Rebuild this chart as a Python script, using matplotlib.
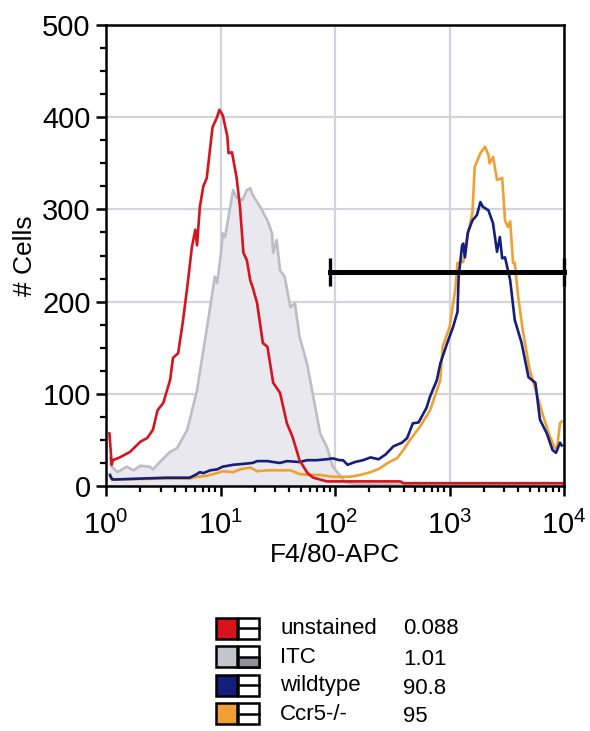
import numpy as np
import matplotlib
matplotlib.use("Agg")
import matplotlib.pyplot as plt
from matplotlib.patches import Rectangle
from matplotlib.ticker import LogLocator, MultipleLocator

plt.rcParams['font.family'] = ['Liberation Sans', 'DejaVu Sans']
plt.rcParams['mathtext.fontset'] = 'custom'
plt.rcParams['mathtext.rm'] = 'Liberation Sans'
plt.rcParams['mathtext.it'] = 'Liberation Sans'
plt.rcParams['mathtext.default'] = 'regular'

# histogramas (x em décadas log10 da intensidade, y = nº de células)
unstained_log = [0.03, 0.05, 0.06, 0.12, 0.21, 0.30, 0.36, 0.41, 0.45, 0.50, 0.56, 0.585, 0.63, 0.67,
                 0.71, 0.75, 0.78, 0.795, 0.82, 0.85, 0.88, 0.93, 0.97, 0.99, 1.02, 1.06, 1.07, 1.10,
                 1.14, 1.17, 1.20, 1.23, 1.26, 1.28, 1.32, 1.37, 1.41, 1.46, 1.52, 1.58, 1.63, 1.69,
                 1.76, 1.81, 1.93, 2.57, 2.60, 4.0]
unstained_cnt = [57, 23, 28, 31, 37, 48, 52, 61, 82, 90, 115, 139, 144, 177,
                 216, 259, 278, 261, 303, 325, 334, 389, 400, 408, 402, 379, 361, 362,
                 335, 303, 253, 245, 223, 216, 198, 155, 151, 112, 101, 68, 53, 28,
                 14, 9, 5, 5, 3, 3]

itc_log = [0.035, 0.05, 0.10, 0.18, 0.24, 0.30, 0.38, 0.41, 0.47, 0.56, 0.62, 0.71, 0.795, 0.85,
           0.91, 0.95, 0.97, 1.00, 1.02, 1.04, 1.07, 1.11, 1.14, 1.19, 1.23, 1.26, 1.28, 1.345,
           1.41, 1.45, 1.46, 1.49, 1.52, 1.56, 1.61, 1.65, 1.69, 1.755, 1.81, 1.87, 1.93, 1.98,
           2.04, 2.09, 2.2, 2.6, 3.0, 3.5, 3.9, 4.0]
itc_cnt = [30, 21, 15, 21, 17, 22, 21, 18, 26, 37, 41, 61, 104, 147,
           194, 227, 220, 248, 274, 270, 292, 321, 313, 310, 321, 323, 316, 303,
           288, 274, 253, 267, 234, 227, 194, 198, 162, 133, 97, 57, 42, 21,
           12, 4, 2, 2, 2, 2, 3, 2]

wt_log = [0.035, 0.05, 0.06, 0.53, 0.73, 0.78, 0.82, 0.85, 0.91, 0.97, 1.02, 1.11, 1.20, 1.28,
          1.32, 1.41, 1.46, 1.52, 1.58, 1.69, 1.755, 1.84, 1.93, 1.98, 2.04, 2.07, 2.11, 2.175,
          2.245, 2.31, 2.38, 2.44, 2.51, 2.585, 2.63, 2.68, 2.73, 2.80, 2.83, 2.89, 2.92, 2.98,
          3.03, 3.07, 3.08, 3.11, 3.12, 3.135, 3.16, 3.20, 3.24, 3.27, 3.29, 3.34, 3.38, 3.415,
          3.44, 3.46, 3.485, 3.53, 3.57, 3.63, 3.69, 3.75, 3.79, 3.85, 3.90, 3.93, 3.965, 3.98]
wt_cnt = [12, 8, 7, 9, 9, 12, 15, 14, 17, 18, 21, 23, 24, 25,
          27, 27, 26, 25, 27, 26, 28, 28, 29, 30, 28, 28, 23, 26,
          28, 31, 29, 34, 43, 47, 52, 68, 69, 85, 97, 115, 133, 155,
          172, 189, 227, 261, 263, 248, 275, 288, 294, 308, 303, 299, 285, 254,
          270, 247, 248, 223, 180, 155, 118, 112, 72, 57, 39, 36, 47, 44]

ko_log = [0.035, 0.05, 0.50, 0.73, 0.795, 0.88, 0.97, 1.02, 1.11, 1.17, 1.26, 1.32, 1.41, 1.52,
          1.61, 1.67, 1.69, 1.78, 1.87, 1.98, 2.13, 2.22, 2.31, 2.39, 2.46, 2.54, 2.585, 2.655,
          2.74, 2.83, 2.92, 2.94, 3.00, 3.05, 3.07, 3.12, 3.15, 3.20, 3.22, 3.27, 3.31, 3.34,
          3.35, 3.38, 3.415, 3.46, 3.485, 3.51, 3.53, 3.555, 3.57, 3.60, 3.64, 3.70, 3.76, 3.82,
          3.88, 3.92, 3.94, 3.965, 3.98]
ko_cnt = [10, 7, 8, 8, 10, 11, 14, 16, 15, 18, 20, 16, 17, 17,
          17, 14, 13, 12, 12, 10, 10, 12, 15, 19, 25, 30, 37, 50,
          64, 82, 115, 151, 172, 213, 242, 243, 267, 296, 346, 361, 368, 359,
          350, 357, 332, 334, 288, 281, 287, 242, 242, 205, 169, 126, 101, 75,
          53, 41, 42, 68, 70]

# gate
gate_lo, gate_hi, gate_y = 90, 10000, 232

# legenda
nomes = ['unstained', 'ITC', 'wildtype', 'Ccr5-/-']
valores = ['0.088', '1.01', '90.8', '95']
cores = ['#d7141e', '#c4c5cc', '#141e7c', '#f0a032']

W, H = 590, 731
fig = plt.figure(figsize=(W / 100, H / 100), dpi=100)
ax = fig.add_axes([106 / W, 1 - 486 / H, (564 - 106) / W, (486 - 25) / H])

ax.fill_between(10 ** np.array(itc_log), itc_cnt, 0, color='#e8e8ee', zorder=2)
ax.plot(10 ** np.array(itc_log), itc_cnt, color='#bdbdc5', lw=1.9, zorder=3)
ax.plot(10 ** np.array(ko_log), ko_cnt, color=cores[3], lw=1.9, zorder=4)
ax.plot(10 ** np.array(wt_log), wt_cnt, color=cores[2], lw=1.9, zorder=5)
ax.plot(10 ** np.array(unstained_log), unstained_cnt, color=cores[0], lw=1.9, zorder=6)

# barra do gate
ax.plot([gate_lo, gate_hi], [gate_y, gate_y], color='black', lw=3.6, zorder=7,
        marker='|', markersize=20, mew=2.4, clip_on=False)

ax.set_xscale('log')
ax.set_xlim(1, 10000)
ax.set_ylim(0, 500)
ax.xaxis.set_major_locator(LogLocator(base=10, numticks=10))
ax.xaxis.set_minor_locator(LogLocator(base=10, subs=np.arange(2, 10), numticks=50))
ax.yaxis.set_major_locator(MultipleLocator(100))
ax.yaxis.set_minor_locator(MultipleLocator(25))

ax.grid(True, which='major', color='#d3d3dd', lw=1.6, zorder=1)
ax.set_axisbelow(True)
for s in ax.spines.values():
    s.set_linewidth(1.8)
    s.set_zorder(8)

ax.tick_params(which='major', direction='out', length=7, width=1.8, labelsize=21, pad=4)
ax.tick_params(which='minor', direction='out', length=4, width=1.6)
ax.tick_params(axis='x', which='major', pad=11)

ax.set_xlabel('F4/80-APC', fontsize=19, labelpad=2)
ax.set_ylabel('# Cells', fontsize=19)
ax.yaxis.set_label_coords(-0.15, 0.50)

# legenda desenhada em pixels
leg = fig.add_axes([0, 0, 1, 1])
leg.set_xlim(0, W)
leg.set_ylim(H, 0)
leg.axis('off')
y0, dy = 628, 28.5
for i, (nome, val, cor) in enumerate(zip(nomes, valores, cores)):
    yc = y0 + i * dy
    leg.add_patch(Rectangle((216, yc - 10.5), 21, 21, facecolor=cor, edgecolor='black', lw=1.8))
    leg.add_patch(Rectangle((238, yc - 10.5), 21, 21, facecolor='white', edgecolor='black', lw=1.8))
    if nome == 'ITC':
        leg.add_patch(Rectangle((238, yc), 21, 10.5, facecolor='#8e9296', edgecolor='black', lw=1.8))
    else:
        leg.plot([238, 259], [yc, yc], color='black', lw=1.8)
    leg.text(280, yc + (0 if i == 0 else 1), nome, fontsize=16, va='center', ha='left')
    leg.text(403, yc + (0 if i == 0 else 3), val, fontsize=16, va='center', ha='left')

fig.savefig('out.png', dpi=100)
